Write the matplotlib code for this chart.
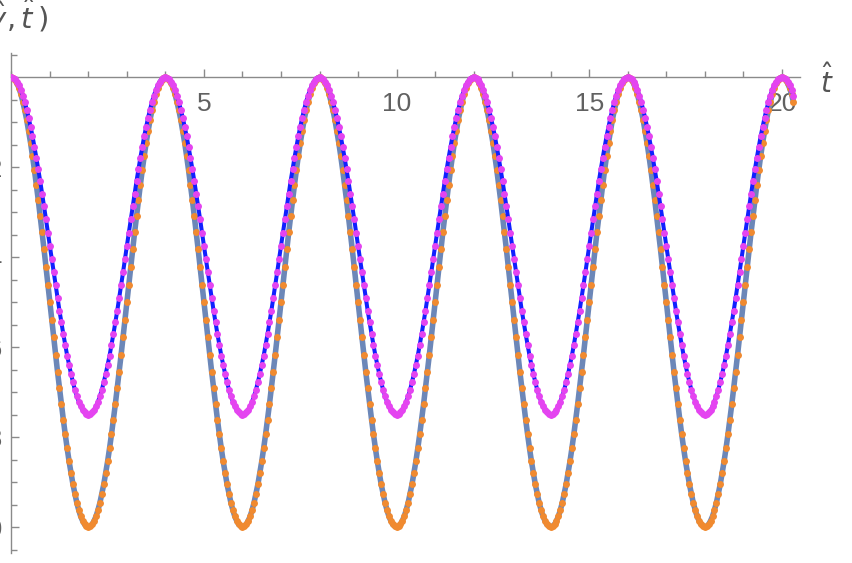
import numpy as np
import matplotlib
matplotlib.use("Agg")
import matplotlib.pyplot as plt
from matplotlib.ticker import MultipleLocator

# ---------------- data ----------------
t_step = 0.05  # sampling interval of the dotted series (time t-hat)

# orange dots / gray-blue line : amplitude 1 oscillation
x_numeric = [
 0, -0.002, -0.006, -0.014, -0.024, -0.038, -0.055, -0.074, -0.095, -0.12, -0.146, -0.175, -0.206, -0.239, -0.273, -0.309, -0.345, -0.383, -0.422, -0.461, -0.5, -0.539, -0.578, -0.617, -0.655, -0.691, -0.727, -0.761, -0.794, -0.825, -0.854, -0.88, -0.905, -0.926, -0.946, -0.962, -0.976, -0.986, -0.994, -0.998, -1.0, -0.998, -0.994, -0.986, -0.976, -0.962, -0.946, -0.926, -0.905, -0.88, -0.854, -0.825, -0.794, -0.761, -0.727, -0.691, -0.655, -0.617, -0.578, -0.539, -0.5, -0.461, -0.422, -0.383, -0.345, -0.309, -0.273, -0.239, -0.206, -0.175, -0.146, -0.12, -0.095, -0.074, -0.055, -0.038, -0.024, -0.014, -0.006, -0.002,
 0, -0.002, -0.006, -0.014, -0.024, -0.038, -0.055, -0.074, -0.095, -0.12, -0.146, -0.175, -0.206, -0.239, -0.273, -0.309, -0.345, -0.383, -0.422, -0.461, -0.5, -0.539, -0.578, -0.617, -0.655, -0.691, -0.727, -0.761, -0.794, -0.825, -0.854, -0.88, -0.905, -0.926, -0.946, -0.962, -0.976, -0.986, -0.994, -0.998, -1.0, -0.998, -0.994, -0.986, -0.976, -0.962, -0.946, -0.926, -0.905, -0.88, -0.854, -0.825, -0.794, -0.761, -0.727, -0.691, -0.655, -0.617, -0.578, -0.539, -0.5, -0.461, -0.422, -0.383, -0.345, -0.309, -0.273, -0.239, -0.206, -0.175, -0.146, -0.12, -0.095, -0.074, -0.055, -0.038, -0.024, -0.014, -0.006, -0.002,
 0, -0.002, -0.006, -0.014, -0.024, -0.038, -0.055, -0.074, -0.095, -0.12, -0.146, -0.175, -0.206, -0.239, -0.273, -0.309, -0.345, -0.383, -0.422, -0.461, -0.5, -0.539, -0.578, -0.617, -0.655, -0.691, -0.727, -0.761, -0.794, -0.825, -0.854, -0.88, -0.905, -0.926, -0.946, -0.962, -0.976, -0.986, -0.994, -0.998, -1.0, -0.998, -0.994, -0.986, -0.976, -0.962, -0.946, -0.926, -0.905, -0.88, -0.854, -0.825, -0.794, -0.761, -0.727, -0.691, -0.655, -0.617, -0.578, -0.539, -0.5, -0.461, -0.422, -0.383, -0.345, -0.309, -0.273, -0.239, -0.206, -0.175, -0.146, -0.12, -0.095, -0.074, -0.055, -0.038, -0.024, -0.014, -0.006, -0.002,
 0, -0.002, -0.006, -0.014, -0.024, -0.038, -0.055, -0.074, -0.095, -0.12, -0.146, -0.175, -0.206, -0.239, -0.273, -0.309, -0.345, -0.383, -0.422, -0.461, -0.5, -0.539, -0.578, -0.617, -0.655, -0.691, -0.727, -0.761, -0.794, -0.825, -0.854, -0.88, -0.905, -0.926, -0.946, -0.962, -0.976, -0.986, -0.994, -0.998, -1.0, -0.998, -0.994, -0.986, -0.976, -0.962, -0.946, -0.926, -0.905, -0.88, -0.854, -0.825, -0.794, -0.761, -0.727, -0.691, -0.655, -0.617, -0.578, -0.539, -0.5, -0.461, -0.422, -0.383, -0.345, -0.309, -0.273, -0.239, -0.206, -0.175, -0.146, -0.12, -0.095, -0.074, -0.055, -0.038, -0.024, -0.014, -0.006, -0.002,
 0, -0.002, -0.006, -0.014, -0.024, -0.038, -0.055, -0.074, -0.095, -0.12, -0.146, -0.175, -0.206, -0.239, -0.273, -0.309, -0.345, -0.383, -0.422, -0.461, -0.5, -0.539, -0.578, -0.617, -0.655, -0.691, -0.727, -0.761, -0.794, -0.825, -0.854, -0.88, -0.905, -0.926, -0.946, -0.962, -0.976, -0.986, -0.994, -0.998, -1.0, -0.998, -0.994, -0.986, -0.976, -0.962, -0.946, -0.926, -0.905, -0.88, -0.854, -0.825, -0.794, -0.761, -0.727, -0.691, -0.655, -0.617, -0.578, -0.539, -0.5, -0.461, -0.422, -0.383, -0.345, -0.309, -0.273, -0.239, -0.206, -0.175, -0.146, -0.12, -0.095, -0.074, -0.055, -0.038, -0.024, -0.014, -0.006, -0.002,
 0, -0.002, -0.006, -0.014, -0.024, -0.038, -0.055,
]

# magenta dots / blue line : amplitude 0.75 oscillation
y_numeric = [
 0, -0.001, -0.005, -0.01, -0.018, -0.029, -0.041, -0.055, -0.072, -0.09, -0.11, -0.131, -0.155, -0.179, -0.205, -0.231, -0.259, -0.287, -0.316, -0.346, -0.375, -0.404, -0.434, -0.463, -0.491, -0.519, -0.545, -0.571, -0.595, -0.619, -0.64, -0.66, -0.678, -0.695, -0.709, -0.721, -0.732, -0.74, -0.745, -0.749, -0.75, -0.749, -0.745, -0.74, -0.732, -0.721, -0.709, -0.695, -0.678, -0.66, -0.64, -0.619, -0.595, -0.571, -0.545, -0.519, -0.491, -0.463, -0.434, -0.404, -0.375, -0.346, -0.316, -0.287, -0.259, -0.231, -0.205, -0.179, -0.155, -0.131, -0.11, -0.09, -0.072, -0.055, -0.041, -0.029, -0.018, -0.01, -0.005, -0.001,
 0, -0.001, -0.005, -0.01, -0.018, -0.029, -0.041, -0.055, -0.072, -0.09, -0.11, -0.131, -0.155, -0.179, -0.205, -0.231, -0.259, -0.287, -0.316, -0.346, -0.375, -0.404, -0.434, -0.463, -0.491, -0.519, -0.545, -0.571, -0.595, -0.619, -0.64, -0.66, -0.678, -0.695, -0.709, -0.721, -0.732, -0.74, -0.745, -0.749, -0.75, -0.749, -0.745, -0.74, -0.732, -0.721, -0.709, -0.695, -0.678, -0.66, -0.64, -0.619, -0.595, -0.571, -0.545, -0.519, -0.491, -0.463, -0.434, -0.404, -0.375, -0.346, -0.316, -0.287, -0.259, -0.231, -0.205, -0.179, -0.155, -0.131, -0.11, -0.09, -0.072, -0.055, -0.041, -0.029, -0.018, -0.01, -0.005, -0.001,
 0, -0.001, -0.005, -0.01, -0.018, -0.029, -0.041, -0.055, -0.072, -0.09, -0.11, -0.131, -0.155, -0.179, -0.205, -0.231, -0.259, -0.287, -0.316, -0.346, -0.375, -0.404, -0.434, -0.463, -0.491, -0.519, -0.545, -0.571, -0.595, -0.619, -0.64, -0.66, -0.678, -0.695, -0.709, -0.721, -0.732, -0.74, -0.745, -0.749, -0.75, -0.749, -0.745, -0.74, -0.732, -0.721, -0.709, -0.695, -0.678, -0.66, -0.64, -0.619, -0.595, -0.571, -0.545, -0.519, -0.491, -0.463, -0.434, -0.404, -0.375, -0.346, -0.316, -0.287, -0.259, -0.231, -0.205, -0.179, -0.155, -0.131, -0.11, -0.09, -0.072, -0.055, -0.041, -0.029, -0.018, -0.01, -0.005, -0.001,
 0, -0.001, -0.005, -0.01, -0.018, -0.029, -0.041, -0.055, -0.072, -0.09, -0.11, -0.131, -0.155, -0.179, -0.205, -0.231, -0.259, -0.287, -0.316, -0.346, -0.375, -0.404, -0.434, -0.463, -0.491, -0.519, -0.545, -0.571, -0.595, -0.619, -0.64, -0.66, -0.678, -0.695, -0.709, -0.721, -0.732, -0.74, -0.745, -0.749, -0.75, -0.749, -0.745, -0.74, -0.732, -0.721, -0.709, -0.695, -0.678, -0.66, -0.64, -0.619, -0.595, -0.571, -0.545, -0.519, -0.491, -0.463, -0.434, -0.404, -0.375, -0.346, -0.316, -0.287, -0.259, -0.231, -0.205, -0.179, -0.155, -0.131, -0.11, -0.09, -0.072, -0.055, -0.041, -0.029, -0.018, -0.01, -0.005, -0.001,
 0, -0.001, -0.005, -0.01, -0.018, -0.029, -0.041, -0.055, -0.072, -0.09, -0.11, -0.131, -0.155, -0.179, -0.205, -0.231, -0.259, -0.287, -0.316, -0.346, -0.375, -0.404, -0.434, -0.463, -0.491, -0.519, -0.545, -0.571, -0.595, -0.619, -0.64, -0.66, -0.678, -0.695, -0.709, -0.721, -0.732, -0.74, -0.745, -0.749, -0.75, -0.749, -0.745, -0.74, -0.732, -0.721, -0.709, -0.695, -0.678, -0.66, -0.64, -0.619, -0.595, -0.571, -0.545, -0.519, -0.491, -0.463, -0.434, -0.404, -0.375, -0.346, -0.316, -0.287, -0.259, -0.231, -0.205, -0.179, -0.155, -0.131, -0.11, -0.09, -0.072, -0.055, -0.041, -0.029, -0.018, -0.01, -0.005, -0.001,
 0, -0.001, -0.005, -0.01, -0.018, -0.029, -0.041,
]

t_values = np.arange(len(x_numeric)) * t_step

x_ticks = [5, 10, 15, 20]
x_tick_labels = ["5", "10", "15", "20"]
y_ticks = [-0.2, -0.4, -0.6, -0.8, -1.0]
y_tick_labels = ["-0.2", "-0.4", "-0.6", "-0.8", "-1.0"]

# ---------------- styling ----------------
plt.rcParams["mathtext.fontset"] = "dejavusans"
axis_gray = "#8a8a8a"
text_gray = "#616161"

fig = plt.figure(figsize=(8.52, 5.63), dpi=100)
W, H = 852.0, 563.0
left_px, right_px, top_px, bottom_px = 11.3, 800.0, 53.3, 552.7
ax = fig.add_axes([left_px / W, (H - bottom_px) / H,
                   (right_px - left_px) / W, (bottom_px - top_px) / H])
ax.set_xlim(0, 20.47)
ax.set_ylim(-1.057, 0.053)
ax.patch.set_alpha(0)

# curves and dots
ax.plot(t_values, x_numeric, color="#6C87B8", lw=4.0, solid_capstyle="round", zorder=2)
ax.plot(t_values, x_numeric, "o", color="#F08A30", ms=5.0, mew=0, zorder=3)
ax.plot(t_values, y_numeric, color="#1020FF", lw=2.9, solid_capstyle="round", zorder=4)
ax.plot(t_values, y_numeric, "o", color="#E444F0", ms=5.0, mew=0, zorder=5)

# Mathematica-like crossing axes
for s in ["top", "right"]:
    ax.spines[s].set_visible(False)
ax.spines["bottom"].set_position(("data", 0))
ax.spines["left"].set_position(("data", 0))
for s in ["bottom", "left"]:
    ax.spines[s].set_color(axis_gray)
    ax.spines[s].set_linewidth(1.0)
    ax.spines[s].set_zorder(1)

ax.set_xticks(x_ticks)
ax.set_xticklabels(x_tick_labels)
ax.xaxis.set_minor_locator(MultipleLocator(1))
ax.set_yticks(y_ticks)
ax.set_yticklabels(y_tick_labels)
ax.yaxis.set_minor_locator(MultipleLocator(0.05))

ax.tick_params(axis="both", which="both", direction="in", color=axis_gray, width=1.0)
ax.tick_params(axis="both", which="major", length=6)
ax.tick_params(axis="both", which="minor", length=4)
ax.tick_params(axis="x", which="major", pad=10.5, labelsize=19, labelcolor=text_gray)
ax.tick_params(axis="y", which="major", pad=6, labelsize=19, labelcolor=text_gray)
for lab in ax.get_xticklabels() + ax.get_yticklabels():
    lab.set_fontfamily("Liberation Sans")

# axis labels (placed like the Mathematica AxesLabel)
fig.text(48 / W, (H - 29) / H, r"$\hat{u}(\hat{y},\hat{t}\,)$", ha="right",
         va="baseline", fontsize=21, color="#555555")
fig.text(827 / W, (H - 93) / H, r"$\hat{t}$", ha="center", va="baseline",
         fontsize=20, color="#555555")

fig.savefig("out.png", dpi=100)
